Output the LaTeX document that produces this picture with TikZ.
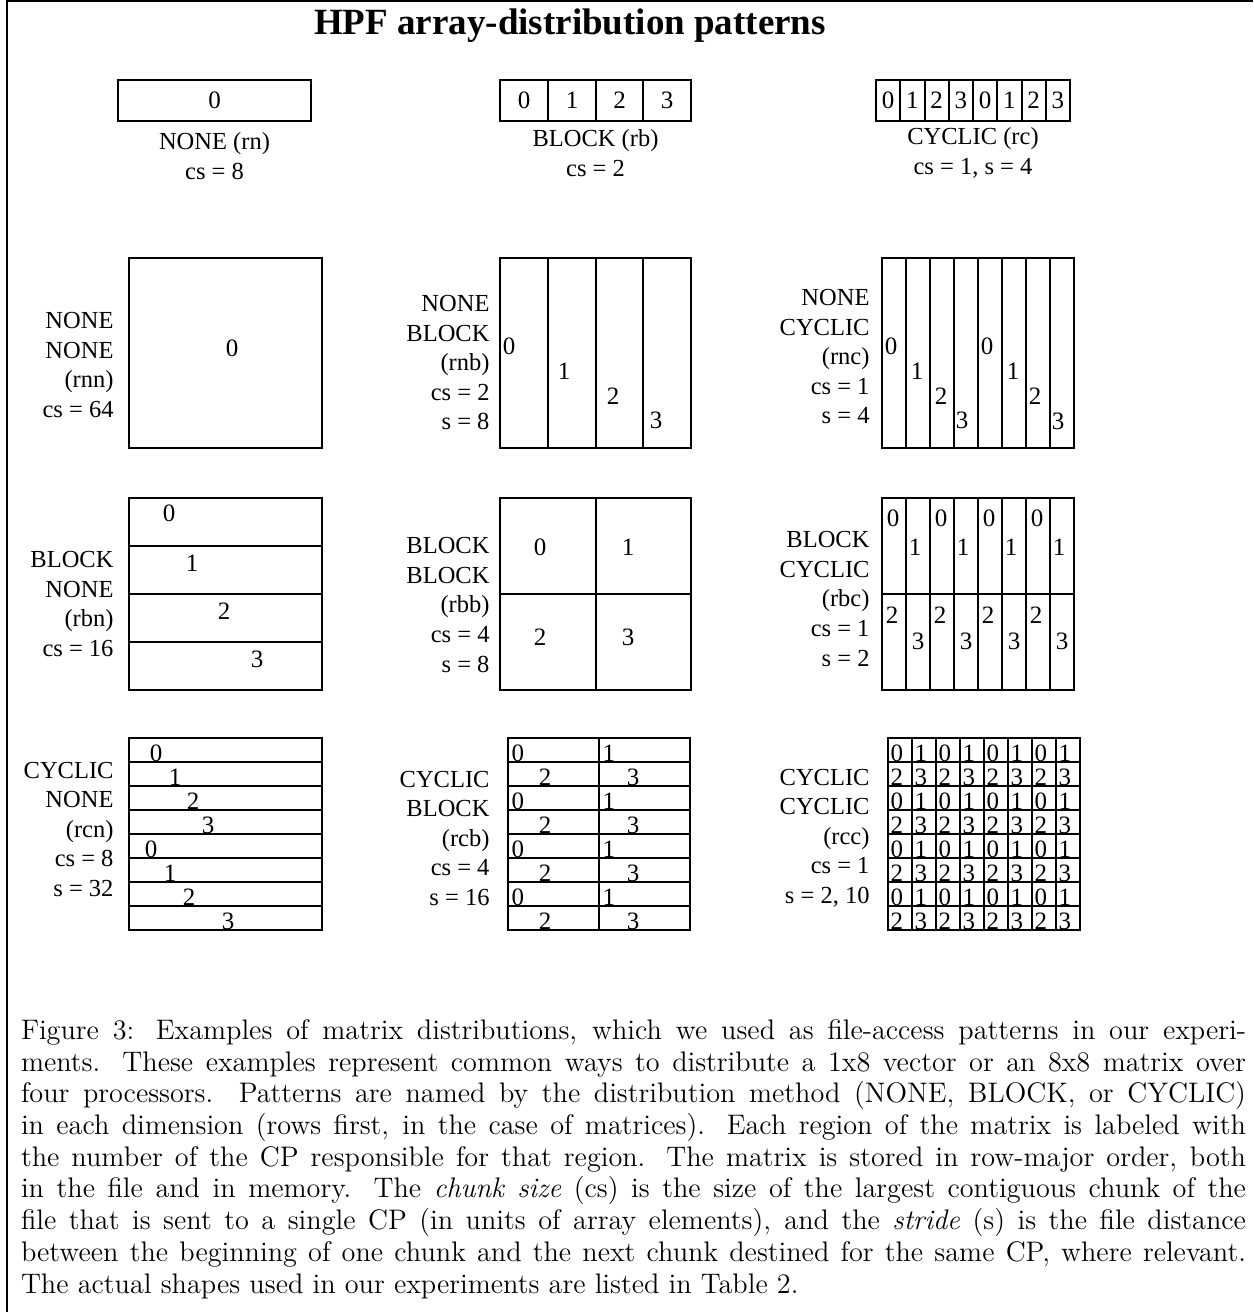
\documentclass[tikz,border=0pt]{standalone}
\usepackage{fontspec}
\newfontfamily\tms{Liberation Serif}
\usepackage{tikz}

\begin{document}
\begin{tikzpicture}[x=0.4pt, y=-0.4pt,
    every node/.style={inner sep=0pt},
    box/.style={draw, line width=0.8pt},
    lbl/.style={font=\tms\fontsize{9.8}{11.8}\selectfont, align=right, anchor=east},
    sub/.style={font=\tms\fontsize{9.8}{11.8}\selectfont, align=center},
    dig/.style={font=\tms\fontsize{10}{12}\selectfont},
    bdig/.style={dig, anchor=base west}
    ]
    \useasboundingbox (0,0) rectangle (1253,1312);
    % frame
    \draw[line width=0.8pt] (7,1312) -- (7,1) -- (1253,1);

    \node[font=\tms\bfseries\fontsize{14.8}{17}\selectfont, anchor=base] (title) at (570,35) {HPF array-distribution patterns};

    % vectors
    \draw[box] (118,80) rectangle (311,121);
    \node[dig] (rn0) at (214.5,100.5) {0};
    \node[sub] (rnlbl) at (214.5,156) {NONE (rn)\\cs = 8};

    \draw[box] (500,80) rectangle (691,121);
    \foreach \x in {548,596,643} \draw[box] (\x,80) -- (\x,121);
    \foreach \d/\x in {0/524,1/572,2/619.5,3/667} \node[dig] (rb\d) at (\x,100.5) {\d};
    \node[sub] (rblbl) at (595.5,153) {BLOCK (rb)\\cs = 2};

    \draw[box] (876,80) rectangle (1070,121);
    \foreach \i in {1,...,7} \draw[box] ({876+24.25*\i},80) -- ({876+24.25*\i},121);
    \foreach \i in {0,...,7} {
        \pgfmathtruncatemacro\d{mod(\i,4)}
        \node[dig] (rc\i) at ({888.1+24.25*\i},100.5) {\d};
    }
    \node[sub] (rclbl) at (973,153) {CYCLIC (rc)\\cs = 1, s = 4};

    % NONE rows
    \draw[box] (129,258) rectangle (322,448);
    \node[dig] (rnn0) at (232,348) {0};
    \node[lbl] (rnnlbl) at (114,365) {NONE\\NONE\\(rnn)\\cs = 64};

    \draw[box] (500,258) rectangle (691,448);
    \foreach \x in {548,596,643} \draw[box] (\x,258) -- (\x,448);
    \foreach \d/\x/\y in {0/509/346,1/564/371,2/613/396,3/656/420} \node[dig] (rnb\d) at (\x,\y) {\d};
    \node[lbl] (rnblbl) at (490,363) {NONE\\BLOCK\\(rnb)\\cs = 2\\s = 8};

    \draw[box] (882,258) rectangle (1074,448);
    \foreach \i in {1,...,7} \draw[box] ({882+24*\i},258) -- ({882+24*\i},448);
    \foreach \i/\d/\x/\y in {0/0/891/346,1/1/917/371,2/2/941/396,3/3/962/420,
                             4/0/987/346,5/1/1013/371,6/2/1035/396,7/3/1058/421}
        \node[dig] (rnc\i) at (\x,\y) {\d};
    \node[lbl] (rnclbl) at (870,357) {NONE\\CYCLIC\\(rnc)\\cs = 1\\s = 4};

    % BLOCK rows
    \draw[box] (129,498) rectangle (322,690);
    \foreach \y in {546,594,642} \draw[box] (129,\y) -- (322,\y);
    \foreach \d/\x/\y in {0/169/513,1/192/563,2/224/611,3/257/659} \node[dig] (rbn\d) at (\x,\y) {\d};
    \node[lbl] (rbnlbl) at (114,604) {BLOCK\\NONE\\(rbn)\\cs = 16};

    \draw[box] (500,498) rectangle (691,690);
    \draw[box] (596,498) -- (596,690);
    \draw[box] (500,594) -- (691,594);
    \foreach \d/\x/\y in {0/540/547,1/628/547,2/540/637,3/628/637} \node[dig] (rbb\d) at (\x,\y) {\d};
    \node[lbl] (rbblbl) at (490,605) {BLOCK\\BLOCK\\(rbb)\\cs = 4\\s = 8};

    \draw[box] (882,498) rectangle (1074,690);
    \foreach \i in {1,...,7} \draw[box] ({882+24*\i},498) -- ({882+24*\i},690);
    \draw[box] (882,594) -- (1074,594);
    \foreach \i in {0,...,3} {
        \node[dig] (rbc0-\i) at ({893+48*\i},518) {0};
        \node[dig] (rbc1-\i) at ({915+48*\i},547) {1};
        \node[dig] (rbc2-\i) at ({892+48*\i},615) {2};
        \node[dig] (rbc3-\i) at ({918+48*\i},641) {3};
    }
    \node[lbl] (rbclbl) at (870,599) {BLOCK\\CYCLIC\\(rbc)\\cs = 1\\s = 2};

    % CYCLIC rows
    \draw[box] (129,738) rectangle (322,930);
    \foreach \k in {1,...,7} \draw[box] (129,{738+24*\k}) -- (322,{738+24*\k});
    \foreach \k/\d/\x in {0/0/156,1/1/175,2/2/193,3/3/208,4/0/151,5/1/170,6/2/189,7/3/228}
        \node[dig, anchor=base] (rcn\k) at (\x,{761+24*\k}) {\d};
    \node[lbl] (rcnlbl) at (114,829) {CYCLIC\\NONE\\(rcn)\\cs = 8\\s = 32};

    \draw[box] (508,738) rectangle (690,930);
    \draw[box] (599,738) -- (599,930);
    \foreach \k in {1,...,7} \draw[box] (508,{738+24*\k}) -- (690,{738+24*\k});
    \foreach \k in {0,...,3} {
        \node[bdig] (rcb0-\k) at (511,{761+48*\k}) {0};
        \node[bdig] (rcb1-\k) at (602,{761+48*\k}) {1};
        \node[dig, anchor=base] (rcb2-\k) at (545,{785+48*\k}) {2};
        \node[dig, anchor=base] (rcb3-\k) at (633,{785+48*\k}) {3};
    }
    \node[lbl] (rcblbl) at (490,838) {CYCLIC\\BLOCK\\(rcb)\\cs = 4\\s = 16};

    \draw[box] (888,738) rectangle (1080,930);
    \foreach \k in {1,...,7} {
        \draw[box] (888,{738+24*\k}) -- (1080,{738+24*\k});
        \draw[box] ({888+24*\k},738) -- ({888+24*\k},930);
    }
    \foreach \r in {0,...,7} \foreach \c in {0,...,7} {
        \pgfmathtruncatemacro\d{2*mod(\r,2)+mod(\c,2)}
        \node[bdig] (rcc\r-\c) at ({890+24*\c},{761+24*\r}) {\d};
    }
    \node[lbl] (rcclbl) at (870,838) {CYCLIC\\CYCLIC\\(rcc)\\cs = 1\\s = 2, 10};

    % caption
    \node[anchor=north west, text width=490pt, align=justify, font=\fontsize{11.3}{12.68}\selectfont] (caption) at (20.5,1019) {\noindent
        Figure 3: Examples of matrix distributions, which we used as file-access patterns in our experi-\linebreak
        ments. These examples represent common ways to distribute a 1x8 vector or an 8x8 matrix over\linebreak
        four processors. Patterns are named by the distribution method (NONE, BLOCK, or CYCLIC)\linebreak
        in each dimension (rows first, in the case of matrices). Each region of the matrix is labeled with\linebreak
        the number of the CP responsible for that region. The matrix is stored in row-major order, both\linebreak
        in the file and in memory. The \emph{chunk size} (cs) is the size of the largest contiguous chunk of the\linebreak
        file that is sent to a single CP (in units of array elements), and the \emph{stride} (s) is the file distance\linebreak
        between the beginning of one chunk and the next chunk destined for the same CP, where relevant.\linebreak
        The actual shapes used in our experiments are listed in Table 2.};
\end{tikzpicture}
\end{document}
